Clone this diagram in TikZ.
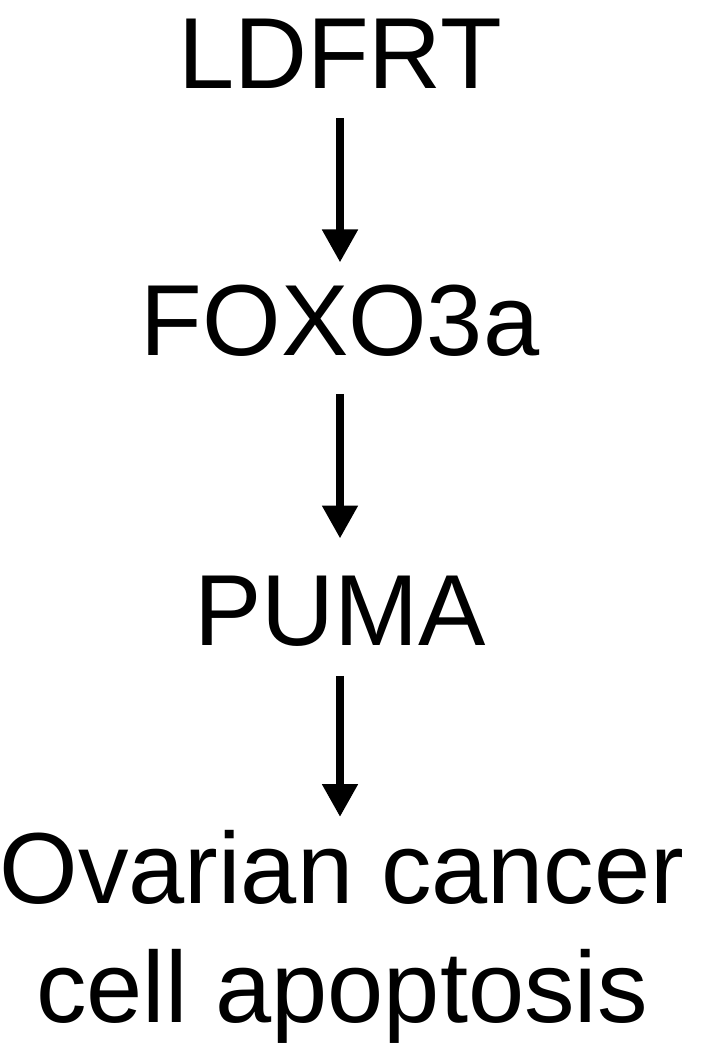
\documentclass[tikz,border=0pt]{standalone}
\usepackage{fontspec}
\setmainfont{Liberation Sans}
\usetikzlibrary{arrows.meta}
\begin{document}
\begin{tikzpicture}[x=1pt,y=1pt,
  lbl/.style={inner sep=0pt, outer sep=0pt, font=\fontsize{101}{119}\selectfont, align=center},
  flow/.style={line width=8pt, -{Triangle[width=34pt,length=33pt]}}]
\useasboundingbox (0,0) rectangle (705,-1055);
\node[lbl, anchor=base] (a) at (340,-88) {LDFRT};
\node[lbl, anchor=base] (b) at (340,-355) {FOXO3a};
\node[lbl, anchor=base] (c) at (340,-645) {PUMA};
\node[lbl, anchor=north] (d) at (342,-830) {Ovarian cancer\\cell apoptosis};
\draw[flow, shorten <=30pt, shorten >=22pt] (a.south) -- (a.south |- b.north);
\draw[flow, shorten <=38pt, shorten >=37pt] (b.south) -- (b.south |- c.north);
\draw[flow, shorten <=30pt, shorten >=13pt] (c.south) -- (c.south |- d.north);
\end{tikzpicture}
\end{document}
